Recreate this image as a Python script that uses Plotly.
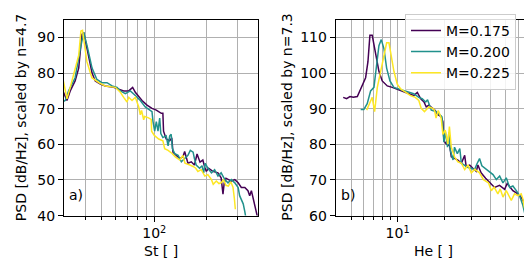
import plotly.graph_objects as go

# ---------------- data ----------------
series_names = ["M=0.175", "M=0.200", "M=0.225"]
series_colors = ["#440154", "#21918c", "#fde725"]

# Panel a) : St vs PSD (scaled by n=4.7)
st_m175 = [30.0, 31.5, 32.9, 35.1, 36.8, 38.4, 39.3, 41.1, 43.9, 45.8, 49.0, 52.3, 58.4, 62.4, 66.7, 71.3,
           75.1, 77.8, 85.0, 90.8, 97.0, 102.7, 109.7, 112.0, 113.0, 117.0, 122.6, 126.0, 128.0, 133.8,
           140.0, 146.0, 149.4, 156.0, 163.0, 170.0, 176.0, 183.0, 190.0, 195.0, 199.0, 205.0, 217.0,
           232.0, 242.0, 248.0, 252.0, 258.0, 265.0, 277.0, 290.0, 303.0, 316.0, 331.0, 345.0, 353.0,
           361.0, 369.0, 377.0, 385.0, 396.0]
psd_a_m175 = [74.8, 72.3, 75.0, 77.8, 81.4, 90.9, 91.4, 86.4, 80.0, 77.8, 76.9, 76.4, 76.0, 75.5, 75.0, 75.0,
              76.0, 74.6, 72.3, 71.0, 70.1, 69.6, 68.7, 68.7, 63.7, 61.5, 61.0, 61.8, 57.8, 56.9,
              56.0, 56.5, 58.0, 54.7, 55.1, 54.2, 57.3, 55.0, 55.6, 53.5, 52.4, 53.3, 52.4,
              52.0, 50.6, 46.0, 49.2, 50.5, 50.1, 49.7, 50.1, 49.2, 47.9, 47.9, 47.0, 45.6,
              47.0, 44.7, 43.3, 41.1, 38.5]

st_m200 = [30.0, 30.8, 32.2, 35.1, 37.6, 39.3, 41.1, 43.9, 46.8, 50.0, 53.5, 57.2, 61.1, 63.8, 68.2, 72.8,
           77.8, 83.1, 88.7, 94.8, 97.0, 98.3, 100.5, 102.7, 105.0, 107.4, 109.0, 112.0, 117.0, 120.0,
           122.6, 125.0, 127.0, 131.0, 137.0, 143.0, 149.0, 156.0, 161.0, 167.0, 170.0, 174.0, 182.0,
           188.0, 192.0, 196.0, 203.0, 213.0, 222.0, 232.0, 242.0, 254.0, 265.0, 277.0, 290.0, 303.0,
           309.0, 316.0, 324.0, 331.0, 338.0]
psd_a_m200 = [72.0, 72.3, 75.0, 78.7, 86.8, 91.5, 87.7, 81.4, 78.2, 77.3, 77.3, 76.4, 76.0, 75.0, 74.2, 75.0,
              73.7, 72.3, 70.5, 69.6, 69.2, 66.4, 63.7, 66.4, 63.7, 67.4, 63.0, 61.9, 62.4, 59.6,
              62.4, 62.8, 58.8, 57.4, 56.9, 55.1, 56.0, 56.9, 58.3, 57.8, 56.0, 54.2, 53.3,
              54.0, 52.0, 54.7, 53.3, 52.0, 52.9, 51.1, 52.0, 50.1, 49.2, 50.1, 49.2, 47.9,
              45.6, 44.7, 43.3, 41.1, 38.5]

st_m225 = [30.0, 31.5, 32.9, 35.1, 36.8, 37.9, 38.7, 41.0, 43.8, 48.0, 52.3, 59.7, 63.8, 66.7, 69.7, 71.3,
           74.5, 77.8, 81.4, 83.1, 84.5, 86.9, 88.0, 92.0, 96.0, 96.5, 100.0, 106.0, 112.0, 114.7,
           120.0, 126.0, 132.0, 140.0, 146.0, 150.0, 156.0, 160.0, 167.0, 173.0, 178.0, 186.0, 195.0,
           203.0, 213.0, 218.0, 227.0, 235.0, 242.0, 250.0, 258.0, 266.0, 275.0, 283.0, 288.0, 292.0]
psd_a_m225 = [78.0, 72.8, 76.0, 81.4, 85.0, 91.8, 92.0, 83.2, 78.7, 77.3, 76.4, 76.0, 74.6, 73.2, 71.9, 73.2,
              72.3, 73.2, 70.5, 68.3, 69.5, 66.9, 67.8, 67.5, 67.0, 63.7, 62.5, 61.5, 61.0, 58.8,
              58.3, 57.5, 56.5, 55.6, 56.9, 54.7, 54.5, 54.2, 53.8, 53.3, 52.4, 52.9, 51.1,
              51.5, 50.1, 48.8, 49.7, 49.0, 49.2, 50.0, 48.5, 48.3, 49.5, 48.0, 45.0, 41.8]

# Panel b) : He vs PSD (scaled by n=7.3)
he_m175 = [4.45, 4.68, 4.92, 5.17, 5.49, 5.77, 6.00, 6.21, 6.43, 6.62, 6.85, 7.21, 7.57, 7.95, 8.57, 9.23,
           9.94, 10.7, 11.8, 12.7, 13.4, 14.1, 14.8, 15.3, 15.9, 16.7, 17.5, 18.2, 19.1, 19.6, 19.9,
           20.6, 21.7, 22.2, 23.3, 24.5, 25.8, 27.1, 27.7, 29.2, 30.6, 32.2, 33.0, 34.6, 37.0, 39.3,
           42.3, 45.5, 49.1, 51.0, 55.5, 59.8, 62.8, 65.3, 67.0, 68.5, 71.5]
psd_b_m175 = [93.2, 92.8, 93.4, 93.2, 93.4, 95.5, 97.3, 98.7, 103.2, 110.6, 110.6, 105.9, 100.5, 97.8, 96.4, 96.0,
              95.5, 95.0, 94.2, 93.7, 94.6, 92.8, 91.9, 90.5, 91.0, 90.1, 89.5, 88.3, 87.8, 86.4, 81.0,
              80.1, 79.6, 76.5, 76.0, 75.6, 74.7, 76.9, 73.8, 74.2, 73.3, 72.4, 74.2, 72.0, 70.5, 69.2,
              67.9, 68.5, 67.4, 69.0, 67.0, 66.1, 65.2, 63.8, 62.5, 61.1, 59.0]

he_m200 = [5.77, 6.05, 6.36, 6.69, 7.03, 7.32, 7.57, 7.84, 8.16, 8.49, 8.92, 9.46, 10.2, 11.0, 11.8, 12.7,
           13.7, 14.4, 15.2, 15.6, 16.5, 17.7, 18.7, 19.3, 19.6, 19.9, 20.3, 21.0, 21.4, 21.9, 22.8,
           23.3, 24.3, 25.2, 25.8, 26.8, 28.5, 29.9, 31.4, 32.5, 33.8, 35.0, 37.4, 41.3, 43.4, 45.6,
           47.9, 50.3, 52.9, 55.5, 58.4, 61.3, 64.4, 65.9, 67.5]
psd_b_m200 = [89.8, 89.8, 91.4, 95.0, 96.0, 102.3, 107.7, 109.4, 106.8, 101.4, 97.8, 96.0, 95.5, 95.0, 94.6, 94.2,
              93.2, 92.8, 91.9, 92.5, 89.6, 89.2, 88.3, 87.8, 84.6, 80.6, 83.7, 79.2, 83.3, 78.3, 75.6,
              79.2, 77.4, 78.8, 74.7, 74.2, 73.5, 73.3, 72.9, 74.5, 76.0, 74.0, 72.9, 71.5, 70.1, 71.1,
              69.2, 70.6, 67.9, 68.3, 67.0, 65.6, 62.9, 61.1, 59.0]

he_m225 = [6.31, 6.62, 6.85, 7.10, 7.39, 7.77, 8.16, 8.49, 8.79, 9.09, 9.46, 9.94, 10.5, 11.3, 12.1, 13.0,
           13.7, 14.2, 14.9, 15.9, 16.9, 17.3, 17.7, 18.3, 19.1, 19.6, 20.3, 21.1, 21.6, 22.2, 23.3,
           24.5, 25.8, 27.1, 28.5, 29.9, 31.5, 33.8, 35.8, 38.6, 40.3, 42.0, 44.4, 46.0, 47.9, 50.3,
           52.9, 54.2, 56.9, 59.8, 62.8, 64.4, 66.0]
psd_b_m225 = [89.6, 91.9, 93.2, 89.2, 96.0, 100.5, 105.0, 108.5, 108.5, 105.0, 100.5, 96.9, 95.5, 94.6, 93.7, 93.2,
              92.3, 90.1, 89.2, 90.5, 90.1, 89.6, 87.4, 89.5, 87.4, 82.8, 84.0, 80.1, 85.0, 79.2, 76.5,
              75.1, 74.7, 72.9, 74.2, 72.0, 73.0, 72.0, 70.1, 69.2, 67.0, 68.0, 66.1, 67.5, 65.2, 67.0,
              65.2, 64.3, 66.1, 65.6, 66.1, 64.7, 62.0]

yticks_a = [40, 50, 60, 70, 80, 90]
yticks_b = [60, 70, 80, 90, 100, 110]
xminor_a = [40, 50, 60, 70, 80, 90, 200, 300]
xminor_b = [5, 6, 7, 8, 9, 20, 30, 40, 50, 60, 70]

# ---------------- figure ----------------
W, H = 532, 268
fig = go.Figure()

left_x = [st_m175, st_m200, st_m225]
left_y = [psd_a_m175, psd_a_m200, psd_a_m225]
right_x = [he_m175, he_m200, he_m225]
right_y = [psd_b_m175, psd_b_m200, psd_b_m225]

for i in range(3):
    fig.add_trace(go.Scatter(x=left_x[i], y=left_y[i], mode="lines", name=series_names[i],
                             line=dict(color=series_colors[i], width=1.5),
                             xaxis="x", yaxis="y", showlegend=False))
for i in range(3):
    fig.add_trace(go.Scatter(x=right_x[i], y=right_y[i], mode="lines", name=series_names[i],
                             line=dict(color=series_colors[i], width=1.5),
                             xaxis="x2", yaxis="y2", showlegend=True))

grid_col = "#b0b0b0"
common = dict(showline=True, linecolor="black", linewidth=1, mirror=True,
              ticks="outside", ticklen=5, tickcolor="black", tickwidth=1,
              showgrid=True, gridcolor=grid_col, gridwidth=1.3, zeroline=False,
              tickfont=dict(size=14, color="black"))

ydom = [(H - 214) / H, (H - 12) / H]

fig.update_layout(
    width=W, height=H, margin=dict(l=0, r=0, t=0, b=0),
    paper_bgcolor="white", plot_bgcolor="white",
    font=dict(family="DejaVu Sans", size=14, color="black"),
    xaxis=dict(domain=[56 / W, 250 / W], type="log", range=[1.4814, 2.5955], anchor="y",
               tickvals=[100], ticktext=["10<sup>2</sup>"],
               minor=dict(tickvals=xminor_a, ticks="outside", ticklen=3, tickcolor="black",
                          showgrid=True, gridcolor=grid_col, gridwidth=1.3),
               **common),
    yaxis=dict(domain=ydom, range=[40, 95], anchor="x", tickvals=yticks_a, **common),
    xaxis2=dict(domain=[327.7 / W, 522 / W], type="log", range=[0.5999, 1.8549], anchor="y2",
                tickvals=[10], ticktext=["10<sup>1</sup>"],
                minor=dict(tickvals=xminor_b, ticks="outside", ticklen=3, tickcolor="black",
                           showgrid=True, gridcolor=grid_col, gridwidth=1.3),
                **common),
    yaxis2=dict(domain=ydom, range=[60, 115], anchor="x2", tickvals=yticks_b, **common),
    legend=dict(x=508 / W, y=(H - 6) / H, xanchor="right", yanchor="top",
                bgcolor="rgba(255,255,255,0.85)", bordercolor="#cccccc", borderwidth=1,
                font=dict(size=14), tracegroupgap=0, itemwidth=30),
)

ann = [
    dict(text="PSD [dB/Hz], scaled by n=4.7", x=12.5 / W, y=(H - 113) / H, textangle=-90),
    dict(text="PSD [dB/Hz], scaled by n=7.3", x=279 / W, y=(H - 113) / H, textangle=-90),
    dict(text="St [ ]", x=153 / W, y=(H - 250) / H),
    dict(text="He [ ]", x=425 / W, y=(H - 250) / H),
    dict(text="a)", x=59 / W, y=(H - 193) / H, xanchor="left"),
    dict(text="b)", x=331 / W, y=(H - 193) / H, xanchor="left"),
]
for a in ann:
    a.setdefault("xanchor", "center")
    fig.add_annotation(xref="paper", yref="paper", yanchor="middle", showarrow=False,
                       font=dict(size=14, color="black"), **a)

fig.write_html("out.html")
